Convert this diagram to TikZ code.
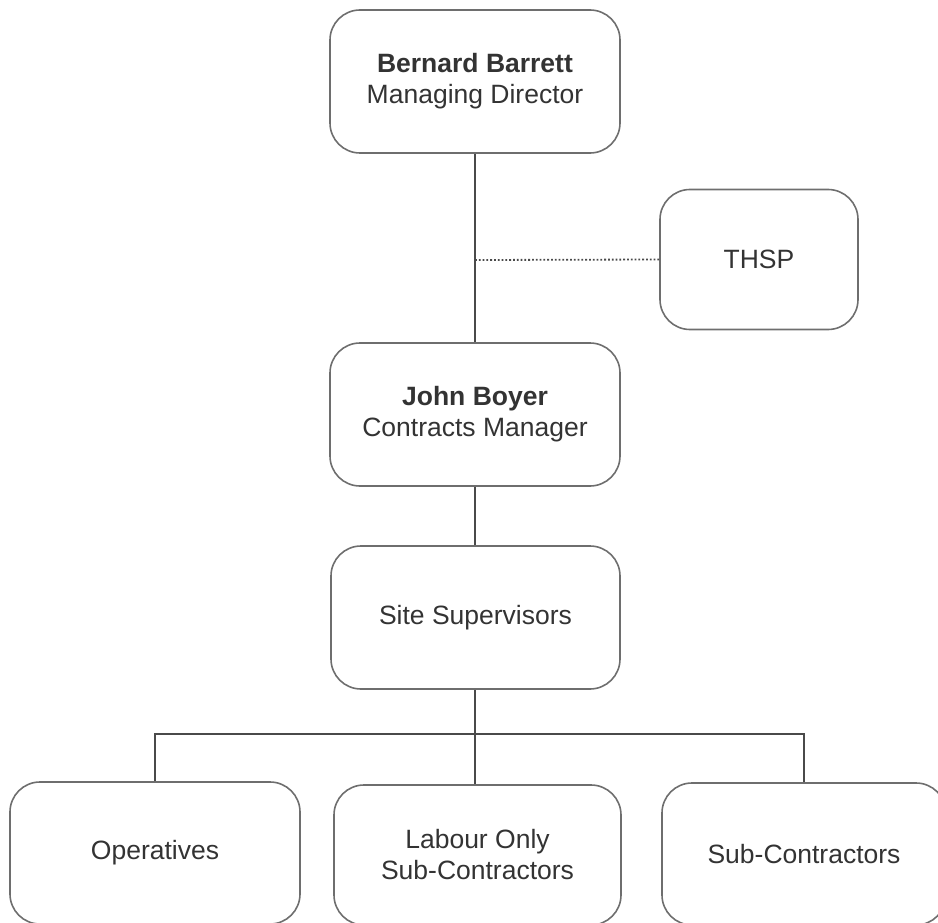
\documentclass[tikz,border=0pt]{standalone}
\usepackage{fontspec}
\setmainfont{Liberation Sans}
\begin{document}
\begin{tikzpicture}[x=1pt,y=-1pt,
  box/.style={draw=boxline, line width=1.6pt, rounded corners=30pt, align=center,
    text=txt, font=\fontsize{26.5}{31}\selectfont, inner sep=0pt},
  link/.style={draw=linkc, line width=1.8pt},
  dotlink/.style={draw=linkc, line width=1.8pt, dotted}]
\definecolor{boxline}{HTML}{6E6E6E}
\definecolor{linkc}{HTML}{4A4A4A}
\definecolor{txt}{HTML}{333333}
\useasboundingbox (0,0) rectangle (938,923);
\node[box, minimum width=290pt, minimum height=143pt] (bb) at (475,81.5) {\textbf{Bernard Barrett}\\Managing Director};
\node[box, minimum width=198pt, minimum height=140pt] (thsp) at (759,259.5) {THSP};
\node[box, minimum width=290pt, minimum height=143pt] (jb) at (475,414.5) {\textbf{John Boyer}\\Contracts Manager};
\node[box, minimum width=289pt, minimum height=143pt] (ss) at (475.5,617.5) {Site Supervisors};
\node[box, minimum width=290pt, minimum height=142pt] (op) at (155,853) {Operatives};
\node[box, minimum width=287pt, minimum height=140pt] (lo) at (477.5,855) {Labour Only\\Sub-Contractors};
\node[box, minimum width=284pt, minimum height=142pt] (sc) at (804,854) {Sub-Contractors};
\coordinate (junc) at (475,260);
\coordinate (bus) at (475,734);
\draw[link] (bb.south) -- (jb.north);
\draw[dotlink] (junc) -- (thsp.west);
\draw[link] (jb.south) -- (jb.south |- ss.north);
\draw[link] (bus |- ss.south) -- (bus);
\draw[link] (op.north) |- (bus) -| (sc.north);
\draw[link] (bus) -- (bus |- lo.north);
\end{tikzpicture}
\end{document}
